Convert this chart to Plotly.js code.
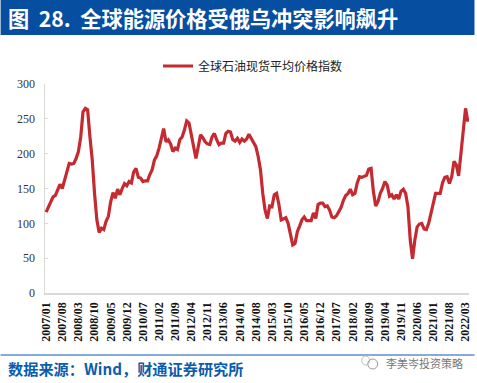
<!DOCTYPE html>
<html><head><meta charset="utf-8">
<script src="https://cdn.plot.ly/plotly-3.0.1.min.js"></script>
<style>html,body{margin:0;padding:0;background:#fff}#c{width:477px;height:383px}</style>
</head><body><div id="c"></div>
<script>
const seriesName = "全球石油现货平均价格指数";
const startYear = 2007;
const values = [
116,124,130,138,140,148,156,150,162,174,186,185,
186,193,203,224,260,265,263,224,191,143,105,87,
93,91,103,110,131,144,136,149,141,150,157,154,
160,158,174,179,166,165,160,161,161,170,177,191,
197,208,224,236,217,220,214,203,208,206,220,224,
234,247,244,227,208,193,210,227,223,217,214,213,
224,229,220,213,215,215,229,232,231,220,218,222,
216,221,218,221,228,222,215,210,196,177,143,119,
107,125,124,141,143,127,105,107,108,100,84,69,
71,88,96,105,109,104,104,104,115,107,127,129,
129,124,125,119,109,108,111,116,123,133,140,143,
149,141,143,158,167,166,168,169,178,179,146,125,
131,143,150,160,155,139,141,135,141,135,146,149,
143,124,76,49,76,95,99,100,92,91,100,115,
127,143,143,143,158,166,167,157,167,189,184,168,
200,234,265,246
];
const tickLabels = ["2007/01","2007/08","2008/03","2008/10","2009/05","2009/12","2010/07","2011/02","2011/09","2012/04","2012/11","2013/06","2014/01","2014/08","2015/03","2015/10","2016/05","2016/12","2017/07","2018/02","2018/09","2019/04","2019/11","2020/06","2021/01","2021/08","2022/03"];
const yTicks = [0,50,100,150,200,250,300];
const titleText = "图  28.  全球能源价格受俄乌冲突影响飙升";
const sourceText = "数据来源：Wind，财通证券研究所";
const watermark = "李美岑投资策略";

const months = values.map((_, i) => (startYear + Math.floor(i / 12)) + "/" + String(i % 12 + 1).padStart(2, "0"));
const axisCol = "#d9d9d9";
const cjk = "'Noto Sans CJK SC','Noto Sans',sans-serif";
const W = 425, H = 209, L = 44.5, T = 84;
const px = x => (x - L) / W;
const py = y => 1 - (y - T) / H;

Plotly.newPlot("c", [{
  x: months, y: values, type: "scatter", mode: "lines", name: seriesName,
  line: {color: "#c42a30", width: 3.2, shape: "linear"}
}], {
  width: 477, height: 383,
  paper_bgcolor: "#fff", plot_bgcolor: "#fff",
  margin: {l: 44.5, r: 7.5, t: 84, b: 90},
  showlegend: true,
  legend: {orientation: "h", x: px(253), xanchor: "center", y: py(66), yanchor: "middle",
    font: {family: cjk, size: 12, color: "#222"}, itemwidth: 30, bgcolor: "rgba(0,0,0,0)"},
  xaxis: {type: "category", categoryorder: "array", categoryarray: months,
    range: [-0.5, values.length - 0.5], tickmode: "array", tickvals: tickLabels, ticktext: tickLabels,
    tickangle: -90, ticks: "", showgrid: false, zeroline: false, ticklabelstandoff: 3,
    showline: true, linecolor: axisCol, linewidth: 1.5,
    tickfont: {family: "'Liberation Serif',serif", size: 12, color: "#111", weight: 700}},
  yaxis: {range: [0, 300], tickmode: "array", tickvals: yTicks, ticks: "inside", ticklen: 3, tickcolor: axisCol,
    showgrid: false, zeroline: false, showline: true, linecolor: axisCol, linewidth: 1.5, ticklabelstandoff: 6,
    tickfont: {family: "'Liberation Serif',serif", size: 12, color: "#333"}},
  shapes: [
    {type: "rect", xref: "paper", yref: "paper", x0: px(0), x1: px(475), y0: py(35), y1: py(0), fillcolor: "#054ea0", line: {width: 0}},
    {type: "line", xref: "paper", yref: "paper", x0: px(0), x1: px(475), y0: py(355), y1: py(355), line: {color: "#5b8fcf", width: 1.5}},
    {type: "circle", xref: "paper", yref: "paper", x0: px(368), x1: px(378), y0: py(369), y1: py(359), line: {color: "#999", width: 1}},
    {type: "circle", xref: "paper", yref: "paper", x0: px(362), x1: px(370), y0: py(365), y1: py(356), line: {color: "#bbb", width: 1}}
  ],
  annotations: [
    {text: titleText, xref: "paper", yref: "paper", x: px(5), y: py(18), xanchor: "left", yanchor: "middle", showarrow: false,
      font: {family: cjk, size: 21.2, color: "#fff", weight: 700}},
    {text: sourceText, xref: "paper", yref: "paper", x: px(5), y: py(368), xanchor: "left", yanchor: "middle", showarrow: false,
      font: {family: cjk, size: 15.2, color: "#0b5cad", weight: 700}},
    {text: watermark, xref: "paper", yref: "paper", x: px(425), y: py(363), xanchor: "center", yanchor: "middle", showarrow: false,
      font: {family: cjk, size: 11, color: "#777"}}
  ]
}, {staticPlot: true, displayModeBar: false});
</script></body></html>
